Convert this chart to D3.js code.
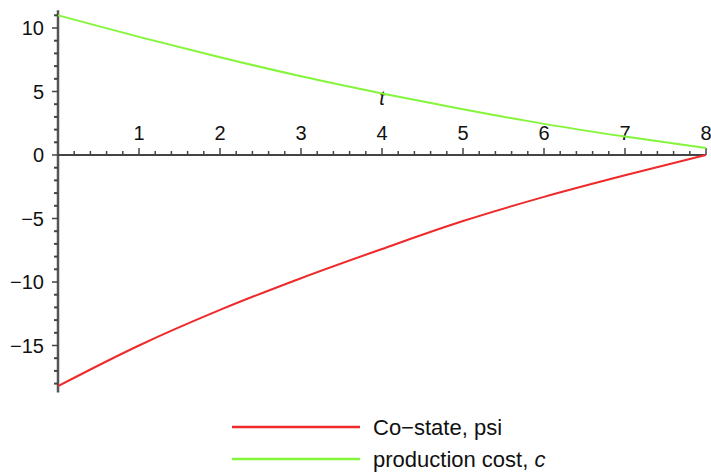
<!DOCTYPE html>
<html><head><meta charset="utf-8">
<script src="https://cdn.jsdelivr.net/npm/d3@7"></script>
<style>body{margin:0;background:#fff}svg{display:block}text{font-family:"Liberation Sans",Arial,sans-serif}</style>
</head><body>
<svg id="c" width="711" height="473"></svg>
<script>
const tValues = [0,1,2,3,4,5,6,7,8];
const psiValues = [-18.2,-15.0,-12.2,-9.7,-7.4,-5.2,-3.3,-1.6,0];
const costValues = [11,9.3,7.7,6.2,4.85,3.6,2.45,1.45,0.55];
const xTickLabels = [1,2,3,4,5,6,7,8];
const yTickLabels = [-15,-10,-5,0,5,10];
const seriesNames = ["Co\u2212state, psi","production cost, "];

const svg = d3.select("#c");
const x = d3.scaleLinear().domain([0,8]).range([58,706]);
const y = d3.scaleLinear().domain([0,10]).range([155,28]);
const axisColor = "#444";
const fs = 20;

svg.append("line").attr("x1",x(0)).attr("x2",x(0)).attr("y1",y(11.4)).attr("y2",y(-18.7))
  .attr("stroke","#555").attr("stroke-width",2.5);
d3.range(-18,12).forEach(v=>{
  const major = v%5===0;
  svg.append("line").attr("x1",x(0)).attr("x2",x(0)-(major?6:4)).attr("y1",y(v)).attr("y2",y(v))
    .attr("stroke",axisColor).attr("stroke-width",major?1.5:2);
});
yTickLabels.forEach(v=>{
  svg.append("text").attr("x",x(0)-14).attr("y",y(v)).attr("dy","0.36em").attr("text-anchor","end")
    .attr("font-size",fs).attr("fill","#111").text(v<0?"\u2212"+Math.abs(v):v);
});
svg.append("line").attr("x1",x(0)).attr("x2",x(8)).attr("y1",y(0)).attr("y2",y(0))
  .attr("stroke",axisColor).attr("stroke-width",2);
d3.range(1,41).forEach(i=>{
  const v=i/5, major=i%5===0;
  svg.append("line").attr("x1",x(v)).attr("x2",x(v)).attr("y1",y(0)).attr("y2",y(0)-(major?7:4))
    .attr("stroke",axisColor).attr("stroke-width",1.5);
});
xTickLabels.forEach(v=>{
  svg.append("text").attr("x",x(v)).attr("y",y(0)-15).attr("text-anchor","middle")
    .attr("font-size",fs).attr("fill","#111").text(v);
});
svg.append("text").attr("x",x(4)).attr("y",y(0)-50).attr("text-anchor","middle")
  .attr("font-size",fs).attr("font-style","italic").attr("fill","#111").text("t");

const line = d3.line().x((d,i)=>x(tValues[i])).y(d=>y(d)).curve(d3.curveMonotoneX);
svg.append("path").attr("d",line(costValues)).attr("fill","none").attr("stroke","#84f53a").attr("stroke-width",2);
svg.append("path").attr("d",line(psiValues)).attr("fill","none").attr("stroke","#ee2a2a").attr("stroke-width",2);

const lg = [{c:"#ee2a2a",y:427,b:435,t:seriesNames[0]},{c:"#84f53a",y:459,b:467,t:seriesNames[1],it:"c"}];
lg.forEach(d=>{
  svg.append("line").attr("x1",232).attr("x2",360).attr("y1",d.y).attr("y2",d.y).attr("stroke",d.c).attr("stroke-width",2.5);
  const tx = svg.append("text").attr("x",373).attr("y",d.b).attr("font-size",22).attr("fill","#111").text(d.t);
  if(d.it) tx.append("tspan").attr("font-style","italic").text(d.it);
});
</script>
</body></html>
